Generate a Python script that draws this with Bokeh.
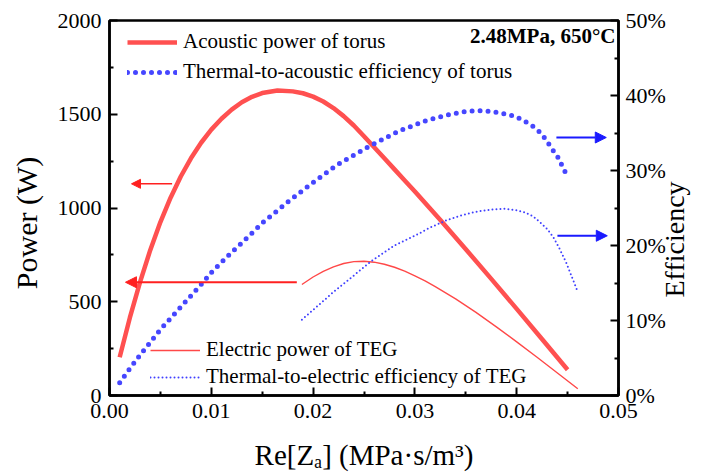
import math
from bokeh.plotting import figure
from bokeh.models import (Range1d, LinearAxis, FixedTicker, PrintfTickFormatter,
                          Legend, LegendItem, Label, Arrow, NormalHead)
from bokeh.embed import file_html
from bokeh.resources import INLINE

# ---------------- data ----------------
re_za_acoustic = [0.001, 0.002, 0.003, 0.004, 0.005, 0.006, 0.007, 0.008, 0.009, 0.010,
                  0.011, 0.012, 0.013, 0.014, 0.015, 0.0165, 0.018, 0.019, 0.020, 0.021,
                  0.022, 0.023, 0.024, 0.025, 0.026, 0.027, 0.028, 0.029, 0.030, 0.0325,
                  0.035, 0.0375, 0.040, 0.0425, 0.045]
power_acoustic = [204, 415, 605, 775, 925, 1055, 1168, 1265, 1348, 1418,
                  1476, 1525, 1564, 1593, 1613, 1627, 1622, 1612, 1594, 1568,
                  1533, 1490, 1440, 1383, 1324, 1265, 1206, 1147, 1088, 936,
                  780, 622, 462, 300, 137]

re_za_eff_torus = [0.001, 0.002, 0.003, 0.004, 0.005, 0.006, 0.007, 0.008, 0.009, 0.010,
                   0.012, 0.0128, 0.0151, 0.0176, 0.020, 0.0223, 0.0256, 0.0285, 0.0312,
                   0.0335, 0.0351, 0.0367, 0.0383, 0.0399, 0.0414, 0.0422, 0.0429, 0.0434,
                   0.0440, 0.0444, 0.0448]
eff_torus = [1.7, 3.6, 5.4, 7.1, 8.8, 10.3, 11.8, 13.3, 14.8, 16.4,
             19.1, 20.1, 23.1, 25.9, 28.4, 30.7, 33.3, 35.3, 36.7,
             37.5, 37.9, 38.0, 37.7, 37.2, 36.1, 35.2, 34.1, 33.0,
             31.9, 30.8, 29.7]

re_za_teg_power = [0.0189, 0.020, 0.021, 0.022, 0.023, 0.024, 0.025, 0.026, 0.027, 0.028,
                   0.029, 0.030, 0.031, 0.032, 0.034, 0.036, 0.038, 0.040, 0.042, 0.044, 0.046]
power_teg = [592, 632, 662, 686, 704, 714, 716, 711, 700, 684,
             663, 638, 611, 581, 515, 443, 366, 286, 204, 120, 36]

re_za_teg_eff = [0.0189, 0.020, 0.022, 0.024, 0.0256, 0.028, 0.0300, 0.0315, 0.033, 0.0345,
                 0.036, 0.0375, 0.0387, 0.040, 0.0408, 0.0416, 0.0423, 0.0430, 0.0436,
                 0.0442, 0.0449, 0.046]
eff_teg = [10.1, 11.4, 13.8, 16.0, 17.8, 20.0, 21.3, 22.4, 23.3, 24.0,
           24.5, 24.8, 24.9, 24.7, 24.4, 23.9, 23.1, 22.2, 21.1,
           19.6, 17.6, 13.8]

x_ticks = [0.0, 0.01, 0.02, 0.03, 0.04, 0.05]
x_minor = [0.005, 0.015, 0.025, 0.035, 0.045]
power_ticks = [0, 500, 1000, 1500, 2000]
power_minor = [250, 750, 1250, 1750]
eff_ticks = [0, 10, 20, 30, 40, 50]
eff_minor = [5, 15, 25, 35, 45]

# arrows: (x_start, x_end, y)  -- y in power units (red) or % (blue)
arrow_acoustic_power = (0.00615, 0.00216, 1129)
arrow_teg_power = (0.0184, 0.00157, 604)
arrow_torus_eff = (0.0439, 0.0488, 34.4)
arrow_teg_eff = (0.0440, 0.0489, 21.3)

# ---------------- layout ----------------
X_MIN, X_MAX = 0.0, 0.05
P_MIN, P_MAX = 0, 2000
E_MIN, E_MAX = 0, 50
W, H = 708, 475
FRAME_L, FRAME_R, FRAME_T, FRAME_B = 109, 619, 20, 395   # page pixels


def px_x(px):
    return X_MIN + (px - FRAME_L) / (FRAME_R - FRAME_L) * (X_MAX - X_MIN)


def px_y(py):
    return P_MIN + (FRAME_B - py) / (FRAME_B - FRAME_T) * (P_MAX - P_MIN)


FONT = "Liberation Serif"
RED_THICK = "#ff5050"
RED_THIN = "#ff4848"
BLUE_DOT = "#4646ff"
BLUE_FINE = "#4040ff"
RED_ARROW = "#ff2020"
BLUE_ARROW = "#1a1aff"
NB = "\u00a0"

p = figure(width=W, height=H, output_backend="svg", toolbar_location=None,
           x_range=Range1d(X_MIN, X_MAX), y_range=Range1d(P_MIN, P_MAX),
           min_border_left=FRAME_L, min_border_right=W - FRAME_R,
           min_border_top=FRAME_T, min_border_bottom=H - FRAME_B)
p.extra_y_ranges = {"eff": Range1d(E_MIN, E_MAX)}
p.xgrid.visible = False
p.ygrid.visible = False
p.outline_line_color = "black"
p.outline_line_width = 2.5
p.outline_line_alpha = 1.0
p.background_fill_color = "white"
p.border_fill_color = "white"

right_axis = LinearAxis(y_range_name="eff")
p.add_layout(right_axis, "right")


def style_axis(ax, ticks, minor, fmt, standoff):
    ax.ticker = FixedTicker(ticks=ticks, minor_ticks=minor)
    ax.formatter = PrintfTickFormatter(format=fmt)
    ax.axis_line_width = 2.5
    ax.axis_line_color = "black"
    ax.major_tick_in = 8
    ax.major_tick_out = 0
    ax.minor_tick_in = 4
    ax.minor_tick_out = 0
    ax.major_tick_line_width = 2
    ax.minor_tick_line_width = 2
    ax.major_tick_line_color = "black"
    ax.minor_tick_line_color = "black"
    ax.major_label_text_font = FONT
    ax.major_label_text_font_size = "22px"
    ax.major_label_text_color = "black"
    ax.major_label_standoff = standoff
    ax.axis_label_text_font = FONT
    ax.axis_label_text_font_size = "29px"
    ax.axis_label_text_font_style = "normal"
    ax.axis_label_text_color = "black"


style_axis(p.xaxis[0], x_ticks, x_minor, "%.2f", 8)
style_axis(p.yaxis[0], power_ticks, power_minor, "%d", 8)
style_axis(right_axis, eff_ticks, eff_minor, "%d%%", 7)

p.xaxis[0].axis_label = "Re[Z\u2090] (MPa\u00b7s/m\u00b3)"
p.xaxis[0].axis_label_standoff = 18
p.yaxis[0].axis_label = "Power (W)" + NB * 4
p.yaxis[0].axis_label_standoff = 12
p.yaxis[0].axis_label_text_font_size = "30px"

right_props = right_axis.properties()
eff_title = "Efficiency"
right_axis.axis_label_orientation = math.pi / 2
right_axis.axis_label_standoff = 6
right_axis.axis_label_text_font_size = "28px"
if "axis_label_align" in right_props:
    right_axis.axis_label_align = "start"
    right_axis.axis_label = NB * 14 + eff_title
else:
    right_axis.axis_label = eff_title

# ---------------- series ----------------
r_ap = p.line(re_za_acoustic, power_acoustic, line_color=RED_THICK, line_width=4.5)
r_et = p.line(re_za_eff_torus, eff_torus, y_range_name="eff", line_color=BLUE_DOT,
              line_width=5, line_dash="0 8", line_cap="round")
r_tp = p.line(re_za_teg_power, power_teg, line_color=RED_THIN, line_width=1.4)
r_te = p.line(re_za_teg_eff, eff_teg, y_range_name="eff", line_color=BLUE_FINE,
              line_width=2, line_dash="0 4", line_cap="round")


# ---------------- arrows ----------------
def add_arrow(spec, color, width, head, range_name="default"):
    xs, xe, y = spec
    p.add_layout(Arrow(x_start=xs, y_start=y, x_end=xe, y_end=y,
                       line_color=color, line_width=width, y_range_name=range_name,
                       end=NormalHead(size=head, fill_color=color, line_color=color, line_width=1)))


add_arrow(arrow_acoustic_power, RED_ARROW, 1.5, 9)
add_arrow(arrow_teg_power, RED_ARROW, 2.2, 11)
add_arrow(arrow_torus_eff, BLUE_ARROW, 2, 11, "eff")
add_arrow(arrow_teg_eff, BLUE_ARROW, 2, 11, "eff")


# ---------------- legends ----------------
def make_legend(items, loc, spacing):
    lg = Legend(items=items, location=loc, spacing=spacing, padding=0, margin=0,
                glyph_width=50, glyph_height=24, label_height=24, label_standoff=6,
                label_text_font=FONT, label_text_font_size="21px", label_text_color="black",
                border_line_alpha=0, background_fill_alpha=0)
    p.add_layout(lg)


make_legend([LegendItem(label="Acoustic power of torus", renderers=[r_ap]),
             LegendItem(label="Thermal-to-acoustic efficiency of torus", renderers=[r_et])],
            (18, 311), 5)
make_legend([LegendItem(label="Electric power of TEG", renderers=[r_tp]),
             LegendItem(label="Thermal-to-electric efficiency of TEG", renderers=[r_te])],
            (41, 6), 2)

# ---------------- texts ----------------
p.add_layout(Label(x=px_x(616), y=px_y(35), text="2.48MPa, 650°C", text_font=FONT,
                   text_font_size="21px", text_align="right", text_baseline="alphabetic",
                   text_font_style="bold", text_color="black"))

open("out.html", "w").write(file_html(p, INLINE))
